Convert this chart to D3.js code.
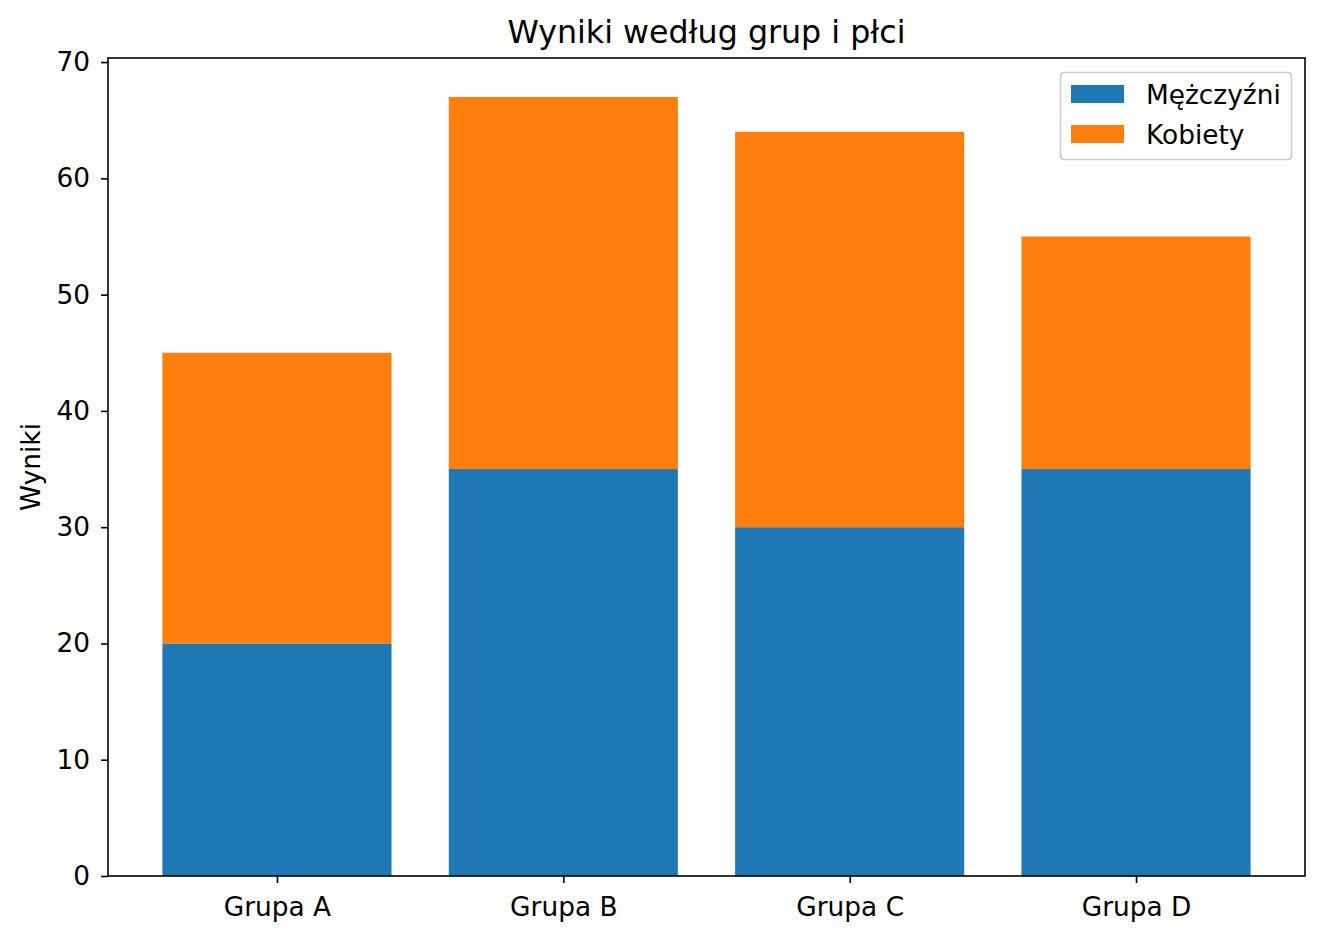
<!DOCTYPE html>
<html><head><meta charset="utf-8">
<script src="https://cdn.jsdelivr.net/npm/d3@7"></script>
<style>body{margin:0;background:#fff}text{font-family:"DejaVu Sans",sans-serif}</style>
</head><body><svg id="c" width="1324" height="940"></svg>
<script>
const categories = ["Grupa A","Grupa B","Grupa C","Grupa D"];
const men = [20,35,30,35];
const women = [25,32,34,20];
const seriesNames = ["Mężczyźni","Kobiety"];
const colors = ["#1f77b4","#ff7f0e"];
const yTicks = [0,10,20,30,40,50,60,70];

const svg = d3.select("#c");
const L=108,R=1305,T=58,B=876;
const FS=26.4;
const totals = men.map((m,i)=>m+women[i]);
const ymax = d3.max(totals)*1.05;
const x = d3.scaleLinear().domain([-0.59, categories.length-1+0.59]).range([L,R]);
const y = d3.scaleLinear().domain([0,ymax]).range([B,T]);
const bw = x(0.8)-x(0);

const stacks = [men, women];
stacks.forEach((vals,s)=>{
  svg.append("g").selectAll("rect").data(vals).join("rect")
    .attr("x",(d,i)=>x(i)-bw/2)
    .attr("width",bw)
    .attr("y",(d,i)=>{const base = s===0?0:men[i]; return y(base+d);})
    .attr("height",(d,i)=>{const base = s===0?0:men[i]; return y(base)-y(base+d);})
    .attr("fill",colors[s]);
});

const yAxis = d3.axisLeft(y).tickValues(yTicks).tickSize(7).tickPadding(11).tickFormat(d3.format("d"));
const gy = svg.append("g").attr("transform",`translate(${L},0)`).call(yAxis);
const xAxis = d3.axisBottom(x).tickValues(d3.range(categories.length)).tickSize(7).tickPadding(14).tickFormat(i=>categories[i]);
const gx = svg.append("g").attr("transform",`translate(0,${B})`).call(xAxis);
[gx,gy].forEach(g=>{
  g.select(".domain").remove();
  g.selectAll("line").attr("stroke","#000").attr("stroke-width",1.6);
  g.selectAll("text").attr("font-size",FS).attr("fill","#000").style("font-family","DejaVu Sans");
});
svg.append("rect").attr("x",L).attr("y",T).attr("width",R-L).attr("height",B-T)
  .attr("fill","none").attr("stroke","#000").attr("stroke-width",1.6);

svg.append("text").attr("x",(L+R)/2).attr("y",43).attr("text-anchor","middle")
  .attr("font-size",31.7).text("Wyniki według grup i płci");
svg.append("text").attr("transform",`translate(40,${(T+B)/2}) rotate(-90)`).attr("text-anchor","middle")
  .attr("font-size",FS).text("Wyniki");

const lg = svg.append("g");
lg.append("rect").attr("x",1060.5).attr("y",72.5).attr("width",231).attr("height",87).attr("rx",4)
  .attr("fill","#fff").attr("fill-opacity",0.8).attr("stroke","#ccc").attr("stroke-width",1.6);
seriesNames.forEach((n,i)=>{
  lg.append("rect").attr("x",1071).attr("y",85+i*40).attr("width",53).attr("height",18).attr("fill",colors[i]);
  lg.append("text").attr("x",1146).attr("y",104+i*40).attr("font-size",FS).text(n);
});
</script></body></html>
